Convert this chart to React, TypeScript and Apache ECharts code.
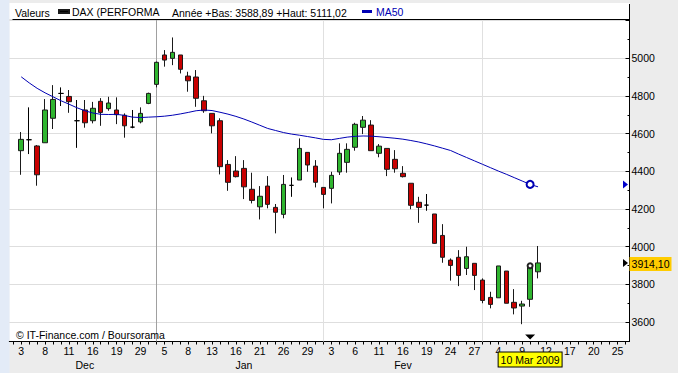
import React, { useEffect, useRef } from 'react';
import * as echarts from 'echarts';

// Trading days (XETRA) shown on the category axis; first one is an empty slot before the data
const categories: string[] = [
  '2008-12-02', '2008-12-03', '2008-12-04', '2008-12-05', '2008-12-08', '2008-12-09', '2008-12-10', '2008-12-11',
  '2008-12-12', '2008-12-15', '2008-12-16', '2008-12-17', '2008-12-18', '2008-12-19', '2008-12-22', '2008-12-23',
  '2008-12-29', '2008-12-30',
  '2009-01-02', '2009-01-05', '2009-01-06', '2009-01-07', '2009-01-08', '2009-01-09', '2009-01-12', '2009-01-13',
  '2009-01-14', '2009-01-15', '2009-01-16', '2009-01-19', '2009-01-20', '2009-01-21', '2009-01-22', '2009-01-23',
  '2009-01-26', '2009-01-27', '2009-01-28', '2009-01-29', '2009-01-30',
  '2009-02-02', '2009-02-03', '2009-02-04', '2009-02-05', '2009-02-06', '2009-02-09', '2009-02-10', '2009-02-11',
  '2009-02-12', '2009-02-13', '2009-02-16', '2009-02-17', '2009-02-18', '2009-02-19', '2009-02-20', '2009-02-23',
  '2009-02-24', '2009-02-25', '2009-02-26', '2009-02-27',
  '2009-03-02', '2009-03-03', '2009-03-04', '2009-03-05', '2009-03-06', '2009-03-09', '2009-03-10', '2009-03-11',
  '2009-03-12', '2009-03-13', '2009-03-16', '2009-03-17', '2009-03-18', '2009-03-19', '2009-03-20', '2009-03-23',
  '2009-03-24', '2009-03-25', '2009-03-26',
];

// Candles from 2008-12-03 to 2009-03-11
const opens = [
  4510, 4568, 4535, 4552, 4682, 4814, 4798, 4669, 4726, 4669, 4772, 4733, 4726, 4698, 4635, 4663, 4761,
  4862, 5018, 5000, 5018, 4906, 4901, 4775, 4708, 4669, 4437, 4402, 4416, 4305, 4212, 4322, 4209, 4172, 4326, 4354, 4501, 4428,
  4315, 4310, 4397, 4448, 4528, 4634, 4646, 4496, 4522, 4464, 4390, 4337, 4236, 4221, 4174, 4060, 3929, 3944, 3885, 3912,
  3823, 3731, 3729, 3871, 3705, 3685, 3721, 3867,
];
const closes = [
  4570, 4568, 4382, 4726, 4782, 4814, 4770, 4669, 4658, 4735, 4713, 4763, 4701, 4642, 4635, 4708, 4814,
  4979, 4991, 5032, 4942, 4881, 4788, 4722, 4642, 4425, 4342, 4372, 4318, 4246, 4268, 4225, 4183, 4331, 4326, 4522, 4434, 4342,
  4278, 4379, 4496, 4517, 4650, 4672, 4510, 4534, 4411, 4414, 4372, 4220, 4209, 4221, 4018, 3944, 3901, 3848, 3947, 3848,
  3715, 3694, 3898, 3700, 3675, 3696, 3898.85, 3914.1,
];
const lows = [
  4382, 4492, 4324, 4552, 4625, 4747, 4711, 4525, 4632, 4655, 4642, 4722, 4651, 4579, 4629, 4655, 4757,
  4846, 4956, 4964, 4920, 4823, 4743, 4711, 4602, 4384, 4297, 4368, 4253, 4230, 4145, 4204, 4071, 4151, 4265, 4354, 4398, 4315,
  4204, 4230, 4381, 4393, 4510, 4598, 4510, 4475, 4375, 4393, 4368, 4199, 4127, 4191, 4015, 3915, 3820, 3791, 3850, 3770,
  3700, 3673, 3729, 3700, 3641, 3588.89, 3681, 3832,
];
const highs = [
  4609, 4740, 4540, 4784, 4858, 4846, 4832, 4779, 4779, 4769, 4789, 4796, 4793, 4708, 4726, 4740, 4818,
  4983, 5044, 5111.02, 5018, 4929, 4938, 4801, 4708, 4682, 4460, 4481, 4460, 4393, 4322, 4375, 4227, 4381, 4368, 4575, 4501, 4460,
  4315, 4398, 4549, 4549, 4658, 4694, 4672, 4545, 4522, 4513, 4428, 4337, 4265, 4280, 4174, 4120, 3938, 3982, 4000, 3912,
  3832, 3761, 3898, 3871, 3775, 3713, 3912, 4004,
];
const ma50 = [
  4902, 4870, 4841, 4817, 4796, 4775, 4757, 4738, 4722, 4710, 4703, 4702, 4703, 4697, 4688, 4686, 4688,
  4690, 4693, 4698, 4705, 4713, 4722, 4726, 4723, 4714, 4704, 4692, 4678, 4662, 4645, 4628, 4617, 4606, 4598, 4592, 4585, 4578,
  4570, 4568, 4575, 4582, 4586, 4588, 4587, 4584, 4580, 4576, 4571, 4564, 4556, 4546, 4535, 4523, 4511, 4492, 4474, 4456,
  4438, 4420, 4402, 4385, 4367, 4349, 4331, 4318,
];

const monthTickDates = ['2008-12-15', '2009-01-19', '2009-02-16'];
const monthNames = ['Dec', 'Jan', 'Fev'];
const periodLines = ['2009-01-02', '2009-02-02', '2009-03-02'];
const yearLow = 3588.89;
const yearHigh = 5111.02;
const cursorDate = '2009-03-10';
const cursorLabel = '10 Mar 2009';
const yMin = 3497;
const yMax = 5209;
const yStep = 200;

const FONT = "'Liberation Sans', Arial, Helvetica, sans-serif";
const FS = 10.5;

const fr = (n: number) => n.toFixed(2).replace('.', ',');

export default function App() {
  const ref = useRef<HTMLDivElement>(null);

  useEffect(() => {
    const chart = echarts.init(ref.current as HTMLDivElement, null, { renderer: 'svg' });
    const candleData: any[] = ['-', ...opens.map((o, i) => [o, closes[i], lows[i], highs[i]])];
    const maData: any[] = ['-', ...ma50];
    const cursorIdx = categories.indexOf(cursorDate) - 1;
    const lastCat = categories[categories.length - 1];
    const lastClose = closes[closes.length - 1];

    const option: any = {
      animation: false,
      backgroundColor: '#ececec',
      textStyle: { fontFamily: FONT, fontSize: FS, color: '#000' },
      grid: {
        left: 9.3,
        top: 19,
        width: 620.2,
        height: 322.5,
        show: true,
        backgroundColor: '#ffffff',
        borderWidth: 0,
      },
      legend: [
        {
          left: 58,
          top: 6,
          padding: 0,
          icon: 'rect',
          itemWidth: 10,
          itemHeight: 3,
          selectedMode: false,
          textStyle: { fontFamily: FONT, fontSize: FS, color: '#000', padding: [0, 0, 0, -2] },
          data: [{ name: 'DAX (PERFORMA', itemStyle: { color: '#000000' } }],
        },
        {
          left: 362,
          top: 6,
          padding: 0,
          icon: 'rect',
          itemWidth: 10,
          itemHeight: 3,
          selectedMode: false,
          textStyle: { fontFamily: FONT, fontSize: FS, color: '#0000b4', padding: [0, 0, 0, -1] },
          data: [{ name: 'MA50', itemStyle: { color: '#0000b4' } }],
        },
      ],
      xAxis: [
        {
          type: 'category',
          data: categories,
          boundaryGap: true,
          axisLine: { show: true, lineStyle: { color: '#000', width: 1 } },
          axisTick: { show: true, interval: 0, alignWithLabel: true, length: 3, lineStyle: { color: '#000' } },
          axisLabel: {
            interval: (i: number) => i >= 1 && (i - 1) % 3 === 0,
            formatter: (v: string) => String(parseInt(v.slice(8), 10)),
            fontFamily: FONT,
            fontSize: FS,
            color: '#000',
            margin: 4,
          },
          splitLine: { show: false },
        },
        {
          type: 'category',
          data: categories,
          boundaryGap: true,
          position: 'bottom',
          offset: 13.5,
          axisLine: { show: false },
          axisTick: { show: false },
          axisLabel: {
            interval: (i: number, v: string) => monthTickDates.indexOf(v) >= 0,
            formatter: (v: string) => {
              const k = monthTickDates.indexOf(v);
              return k >= 0 ? monthNames[k] : '';
            },
            fontFamily: FONT,
            fontSize: FS,
            color: '#000',
            margin: 4,
          },
          splitLine: { show: false },
        },
      ],
      yAxis: {
        type: 'value',
        position: 'right',
        min: yMin,
        max: yMax,
        splitNumber: 8,
        minInterval: yStep,
        maxInterval: yStep,
        axisLine: { show: true, lineStyle: { color: '#000', width: 1 } },
        axisTick: { show: true, inside: true, length: 4, lineStyle: { color: '#000' } },
        minorTick: { show: true, splitNumber: 2, length: 2, lineStyle: { color: '#000' } },
        axisLabel: {
          margin: 2,
          fontFamily: FONT,
          fontSize: FS,
          color: '#000',
          formatter: (v: number) => (Math.abs(v % yStep) < 0.001 && v < 5200 ? String(v) : ''),
        },
        splitLine: { show: true, lineStyle: { color: '#dedede', width: 1 } },
      },
      series: [
        {
          name: 'DAX (PERFORMA',
          type: 'candlestick',
          xAxisIndex: 0,
          yAxisIndex: 0,
          barWidth: 5,
          data: candleData,
          itemStyle: {
            color: '#2fb52f',
            color0: '#c80000',
            borderColor: '#1a1a1a',
            borderColor0: '#1a1a1a',
            borderColorDoji: '#000000',
            borderWidth: 1,
          },
          markLine: {
            silent: true,
            symbol: 'none',
            animation: false,
            z: 1,
            label: { show: false },
            data: periodLines.map((d, i) => ({
              xAxis: d,
              lineStyle: { color: i === 0 ? '#a0a0a0' : '#e0e0e0', type: 'solid', width: 1 },
            })),
          },
          markPoint: {
            silent: true,
            animation: false,
            data: [
              {
                name: 'cursor',
                coord: [cursorDate, yMin],
                symbol: 'triangle',
                symbolRotate: 180,
                symbolSize: [10, 5],
                symbolOffset: [0, -4.5],
                itemStyle: { color: '#000' },
                label: { show: false },
              },
              {
                name: 'cursorCandle',
                coord: [cursorDate, closes[cursorIdx]],
                symbol: 'emptyCircle',
                symbolSize: 5,
                itemStyle: { color: '#222222', borderWidth: 1 },
                label: { show: false },
              },
              {
                name: 'cursorLabel',
                coord: [cursorDate, yMin],
                symbol: 'rect',
                symbolSize: [1, 1],
                itemStyle: { color: 'rgba(0,0,0,0)' },
                label: {
                  show: true,
                  position: 'inside',
                  offset: [0, 18],
                  formatter: cursorLabel,
                  backgroundColor: '#ffff00',
                  borderColor: '#000',
                  borderWidth: 1,
                  padding: [2, 2, 1, 2],
                  color: '#000',
                  fontFamily: FONT,
                  fontSize: FS,
                },
              },
              {
                name: 'lastArrow',
                coord: [lastCat, lastClose],
                symbol: 'triangle',
                symbolRotate: -90,
                symbolSize: [8, 5],
                itemStyle: { color: '#000' },
                label: { show: false },
              },
              {
                name: 'lastLabel',
                coord: [lastCat, lastClose],
                symbol: 'rect',
                symbolSize: [1, 1],
                itemStyle: { color: 'rgba(0,0,0,0)' },
                label: {
                  show: true,
                  position: 'inside',
                  offset: [25, 1],
                  formatter: fr(lastClose),
                  backgroundColor: '#ffcc00',
                  padding: [2, 2, 1, 2],
                  color: '#000',
                  fontFamily: FONT,
                  fontSize: FS,
                },
              },
              {
                name: 'maArrow',
                coord: [lastCat, ma50[cursorIdx]],
                symbol: 'triangle',
                symbolRotate: -90,
                symbolSize: [8, 5],
                itemStyle: { color: '#0000cc' },
                label: { show: false },
              },
            ],
          },
        },
        {
          name: 'MA50',
          type: 'line',
          xAxisIndex: 0,
          yAxisIndex: 0,
          data: maData,
          symbol: 'none',
          smooth: false,
          lineStyle: { color: '#0000b4', width: 1 },
          itemStyle: { color: '#0000b4' },
          z: 3,
          markPoint: {
            silent: true,
            animation: false,
            data: [
              {
                name: 'maCursor',
                coord: [cursorDate, ma50[cursorIdx]],
                symbol: 'emptyCircle',
                symbolSize: 7,
                itemStyle: { color: '#0000b4', borderWidth: 1 },
                label: { show: false },
              },
            ],
          },
        },
      ],
      graphic: {
        elements: [
          { type: 'rect', shape: { x: 0, y: 0, width: 9.5, height: 373 }, style: { fill: '#e3ebf7' }, silent: true },
          { type: 'rect', shape: { x: 9.5, y: 3, width: 620, height: 16 }, style: { fill: '#ffffff' }, silent: true },
          { type: 'line', shape: { x1: 12.5, y1: 19.5, x2: 629.5, y2: 19.5 }, style: { stroke: '#000', lineWidth: 1 }, silent: true, z: 10 },
          { type: 'line', shape: { x1: 629.5, y1: 4, x2: 629.5, y2: 19.5 }, style: { stroke: '#000', lineWidth: 1 }, silent: true, z: 10 },
          {
            type: 'text',
            x: 15,
            y: 12.5,
            style: { text: 'Valeurs', fill: '#000', font: `${FS}px ${FONT}`, verticalAlign: 'middle' },
            silent: true,
          },
          {
            type: 'text',
            x: 172,
            y: 12.5,
            style: {
              text: `Année +Bas: ${fr(yearLow)} +Haut: ${fr(yearHigh)}`,
              fill: '#000',
              font: `${FS}px ${FONT}`,
              verticalAlign: 'middle',
            },
            silent: true,
          },
          {
            type: 'text',
            x: 16,
            y: 334.5,
            style: { text: '© IT-Finance.com / Boursorama', fill: '#000', font: `${FS}px ${FONT}`, verticalAlign: 'middle' },
            silent: true,
            z: 10,
          },
        ],
      },
    };
    chart.setOption(option);
    return () => chart.dispose();
  }, []);

  return <div ref={ref} style={{ position: 'fixed', left: 0, top: 0, width: 678, height: 373 }} />;
}
